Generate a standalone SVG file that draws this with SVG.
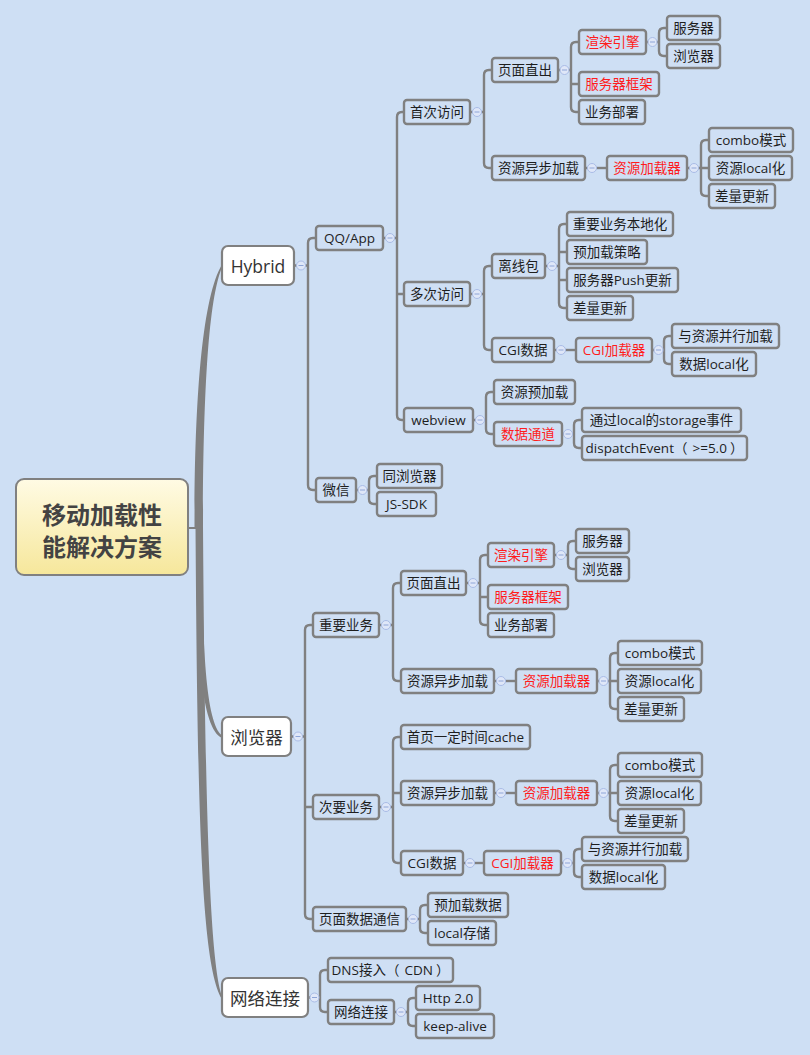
<svg xmlns="http://www.w3.org/2000/svg" width="810" height="1055" viewBox="0 0 810 1055">
<defs>
<linearGradient id="rootg" x1="0" y1="0" x2="0" y2="1">
<stop offset="0" stop-color="#fffbe4"/>
<stop offset="1" stop-color="#f6e79b"/>
</linearGradient>
<g id="btn"><circle cx="0" cy="0" r="4.5" fill="#dfe7f8" stroke="#a9bce6" stroke-width="1"/><line x1="-2.5" y1="0" x2="2.5" y2="0" stroke="#8ea5d8" stroke-width="1"/></g>
</defs>
<style>
.bg{fill:#cedff4}
.n rect{fill:#cfdff4;stroke:#808080;stroke-width:2.4}
.n text{font-family:"Open Sans","Noto Sans CJK SC",sans-serif;font-size:13.5px;fill:#1e1e1e;text-anchor:middle;dominant-baseline:central}
.n.red text{fill:#ff1c1c}
.l1 rect{fill:#ffffff;stroke:#808080;stroke-width:2.2}
.l1 text{font-family:"Open Sans","Noto Sans CJK SC",sans-serif;font-size:17.5px;fill:#333;text-anchor:middle;dominant-baseline:central}
.root rect{fill:url(#rootg);stroke:#808080;stroke-width:2}
.root text{font-family:"Noto Sans CJK SC",sans-serif;font-size:24px;font-weight:bold;fill:#434343;text-anchor:middle;dominant-baseline:central}
.c path{fill:none;stroke:#808080;stroke-width:2.4}
.trunk path{fill:#808080;stroke:none}
</style>
<rect class="bg" x="0" y="0" width="810" height="1055"/>

<g id="connectors">
<g class="trunk">
<path d="M188,527 H199 V529 H188 Z"/>
<path d="M194.5,527 C194.5,400 202,298 222,264.5 L222,267.5 C208,300 203,400 203,527 Z"/>
<path d="M196,527 C196,650 201,728 222,738 L222,735.5 C206,722 202,650 202,527 Z"/>
<path d="M195.5,527 C197.5,800 200.5,965 222,999 L222,996 C209.5,960 205,800 203,527 Z"/>
</g>
<g class="c">
<path d="M294,265.5 H308 M316,238 H313 Q308,238 308,243 V485 Q308,490 313,490 H316"/>
<path d="M383,238 H397 M404,112 H402 Q397,112 397,117 V415 Q397,420 402,420 H404 M397,294 H404"/>
<path d="M470,112 H484 M492,70 H489 Q484,70 484,75 V163 Q484,168 489,168 H492"/>
<path d="M558,70 H571 M579,42 H576 Q571,42 571,47 V107 Q571,112 576,112 H579 M571,84 H579"/>
<path d="M646,42 H659 M667,28 H664 Q659,28 659,33 V51 Q659,56 664,56 H667"/>
<path d="M585,168 H607"/>
<path d="M687,168 H709 M709,140 H706 Q701,140 701,145 V191 Q701,196 706,196 H709"/>
<path d="M470,294 H484 M492,266 H489 Q484,266 484,271 V345 Q484,350 489,350 H492"/>
<path d="M545,266 H559 M567,224 H564 Q559,224 559,229 V303 Q559,308 564,308 H567 M559,252 H567 M559,280 H567"/>
<path d="M554,350 H576"/>
<path d="M652,350 H664 M672,336 H669 Q664,336 664,341 V359 Q664,364 669,364 H672"/>
<path d="M473,420 H486 M494,392 H491 Q486,392 486,397 V429 Q486,434 491,434 H494"/>
<path d="M562,434 H574 M582,420 H579 Q574,420 574,425 V443 Q574,448 579,448 H582"/>
<path d="M356,490 H369 M377,476 H374 Q369,476 369,481 V499 Q369,504 374,504 H377"/>
<path d="M291,736.5 H305 M313,625 H310 Q305,625 305,630 V914 Q305,919 310,919 H313 M305,807 H313"/>
<path d="M379,625 H393 M401,583 H398 Q393,583 393,588 V676 Q393,681 398,681 H401"/>
<path d="M466,583 H480 M488,555 H485 Q480,555 480,560 V620 Q480,625 485,625 H488 M480,597 H488"/>
<path d="M554,555 H568 M576,541 H573 Q568,541 568,546 V564 Q568,569 573,569 H576"/>
<path d="M494,681 H516"/>
<path d="M597,681 H618 M618,653 H615 Q610,653 610,658 V704 Q610,709 615,709 H618"/>
<path d="M379,807 H393 M401,737 H398 Q393,737 393,742 V858 Q393,863 398,863 H401 M393,793 H401"/>
<path d="M494,793 H516"/>
<path d="M597,793 H618 M618,765 H615 Q610,765 610,770 V816 Q610,821 615,821 H618"/>
<path d="M463,863 H484"/>
<path d="M561,863 H574 M582,849 H579 Q574,849 574,854 V872 Q574,877 579,877 H582"/>
<path d="M406,919 H420 M428,905 H425 Q420,905 420,910 V928 Q420,933 425,933 H428"/>
<path d="M308,997.5 H320 M328,970 H325 Q320,970 320,975 V1007 Q320,1012 325,1012 H328"/>
<path d="M394,1012 H408 M416,998 H413 Q408,998 408,1003 V1021 Q408,1026 413,1026 H416"/>
</g>
<g class="buttons">
<use href="#btn" x="301" y="265.5"/>
<use href="#btn" x="390" y="238"/>
<use href="#btn" x="477" y="112"/>
<use href="#btn" x="564.5" y="70"/>
<use href="#btn" x="652.5" y="42"/>
<use href="#btn" x="592" y="168"/>
<use href="#btn" x="694" y="168"/>
<use href="#btn" x="477" y="294"/>
<use href="#btn" x="552" y="266"/>
<use href="#btn" x="561" y="350"/>
<use href="#btn" x="658.5" y="350"/>
<use href="#btn" x="480" y="420"/>
<use href="#btn" x="568" y="434"/>
<use href="#btn" x="362.5" y="490"/>
<use href="#btn" x="298" y="736.5"/>
<use href="#btn" x="386" y="625"/>
<use href="#btn" x="473" y="583"/>
<use href="#btn" x="561" y="555"/>
<use href="#btn" x="501" y="681"/>
<use href="#btn" x="603.5" y="681"/>
<use href="#btn" x="386" y="807"/>
<use href="#btn" x="501" y="793"/>
<use href="#btn" x="603.5" y="793"/>
<use href="#btn" x="470" y="863"/>
<use href="#btn" x="567.5" y="863"/>
<use href="#btn" x="413" y="919"/>
<use href="#btn" x="314.5" y="997.5"/>
<use href="#btn" x="401" y="1012"/>
</g>
</g>

<g id="root" class="root">
<rect x="16" y="479" width="172" height="96" rx="8"/>
<text x="102" y="513">移动加载性</text>
<text x="102" y="545">能解决方案</text>
</g>

<g id="n-hybrid" class="l1"><rect x="222" y="246" width="72" height="39" rx="6"/><text x="258" y="265.5">Hybrid</text></g>
<g id="n-browser" class="l1"><rect x="222" y="717" width="69" height="39" rx="6"/><text x="256.5" y="736.5">浏览器</text></g>
<g id="n-network" class="l1"><rect x="222" y="978" width="86" height="39" rx="6"/><text x="265" y="997.5">网络连接</text></g>

<g id="n-qqapp" class="n"><rect x="316" y="226" width="67" height="24" rx="3"/><text x="349.5" y="238">QQ/App</text></g>
<g id="n-first" class="n"><rect x="404" y="100" width="66" height="24" rx="3"/><text x="437" y="112">首次访问</text></g>
<g id="n-h-direct" class="n"><rect x="492" y="58" width="66" height="24" rx="3"/><text x="525" y="70">页面直出</text></g>
<g id="n-h-render" class="n red"><rect x="579" y="30" width="67" height="24" rx="3"/><text x="612.5" y="42">渲染引擎</text></g>
<g id="n-h-server" class="n"><rect x="667" y="16" width="53" height="24" rx="3"/><text x="693.5" y="28">服务器</text></g>
<g id="n-h-browser" class="n"><rect x="667" y="44" width="53" height="24" rx="3"/><text x="693.5" y="56">浏览器</text></g>
<g id="n-h-framework" class="n red"><rect x="579" y="72" width="80" height="24" rx="3"/><text x="619" y="84">服务器框架</text></g>
<g id="n-h-deploy" class="n"><rect x="579" y="100" width="66" height="24" rx="3"/><text x="612" y="112">业务部署</text></g>
<g id="n-h-async" class="n"><rect x="492" y="156" width="93" height="24" rx="3"/><text x="538.5" y="168">资源异步加载</text></g>
<g id="n-h-loader" class="n red"><rect x="607" y="156" width="80" height="24" rx="3"/><text x="647" y="168">资源加载器</text></g>
<g id="n-h-combo" class="n"><rect x="709" y="128" width="84" height="24" rx="3"/><text x="751" y="140">combo模式</text></g>
<g id="n-h-local" class="n"><rect x="709" y="156" width="83" height="24" rx="3"/><text x="750.5" y="168">资源local化</text></g>
<g id="n-h-diff" class="n"><rect x="709" y="184" width="66" height="24" rx="3"/><text x="742" y="196">差量更新</text></g>

<g id="n-multi" class="n"><rect x="404" y="282" width="66" height="24" rx="3"/><text x="437" y="294">多次访问</text></g>
<g id="n-offline" class="n"><rect x="492" y="254" width="53" height="24" rx="3"/><text x="518.5" y="266">离线包</text></g>
<g id="n-o-1" class="n"><rect x="567" y="212" width="106" height="24" rx="3"/><text x="620" y="224">重要业务本地化</text></g>
<g id="n-o-2" class="n"><rect x="567" y="240" width="80" height="24" rx="3"/><text x="607" y="252">预加载策略</text></g>
<g id="n-o-3" class="n"><rect x="567" y="268" width="111" height="24" rx="3"/><text x="622.5" y="280">服务器Push更新</text></g>
<g id="n-o-4" class="n"><rect x="567" y="296" width="66" height="24" rx="3"/><text x="600" y="308">差量更新</text></g>
<g id="n-h-cgi" class="n"><rect x="492" y="338" width="62" height="24" rx="3"/><text x="523" y="350">CGI数据</text></g>
<g id="n-h-cgiloader" class="n red"><rect x="576" y="338" width="76" height="24" rx="3"/><text x="614" y="350">CGI加载器</text></g>
<g id="n-h-par" class="n"><rect x="672" y="324" width="107" height="24" rx="3"/><text x="725.5" y="336">与资源并行加载</text></g>
<g id="n-h-datalocal" class="n"><rect x="672" y="352" width="84" height="24" rx="3"/><text x="714" y="364">数据local化</text></g>

<g id="n-webview" class="n"><rect x="404" y="408" width="69" height="24" rx="3"/><text x="438.5" y="420">webview</text></g>
<g id="n-preload" class="n"><rect x="494" y="380" width="81" height="24" rx="3"/><text x="534.5" y="392">资源预加载</text></g>
<g id="n-channel" class="n red"><rect x="494" y="422" width="68" height="24" rx="3"/><text x="528" y="434">数据通道</text></g>
<g id="n-storage" class="n"><rect x="582" y="408" width="159" height="24" rx="3"/><text x="661.5" y="420">通过local的storage事件</text></g>
<g id="n-dispatch" class="n"><rect x="582" y="436" width="165" height="24" rx="3"/><text x="664.5" y="448">dispatchEvent（<tspan dx="5">&gt;=5.0</tspan><tspan dx="3">）</tspan></text></g>

<g id="n-wechat" class="n"><rect x="316" y="478" width="40" height="24" rx="3"/><text x="336" y="490">微信</text></g>
<g id="n-samebrowser" class="n"><rect x="377" y="464" width="65" height="24" rx="3"/><text x="409.5" y="476">同浏览器</text></g>
<g id="n-jssdk" class="n"><rect x="377" y="492" width="59" height="24" rx="3"/><text x="406.5" y="504">JS-SDK</text></g>

<g id="n-important" class="n"><rect x="313" y="613" width="66" height="24" rx="3"/><text x="346" y="625">重要业务</text></g>
<g id="n-b-direct" class="n"><rect x="401" y="571" width="65" height="24" rx="3"/><text x="433.5" y="583">页面直出</text></g>
<g id="n-b-render" class="n red"><rect x="488" y="543" width="66" height="24" rx="3"/><text x="521" y="555">渲染引擎</text></g>
<g id="n-b-server" class="n"><rect x="576" y="529" width="53" height="24" rx="3"/><text x="602.5" y="541">服务器</text></g>
<g id="n-b-browser" class="n"><rect x="576" y="557" width="53" height="24" rx="3"/><text x="602.5" y="569">浏览器</text></g>
<g id="n-b-framework" class="n red"><rect x="488" y="585" width="80" height="24" rx="3"/><text x="528" y="597">服务器框架</text></g>
<g id="n-b-deploy" class="n"><rect x="488" y="613" width="66" height="24" rx="3"/><text x="521" y="625">业务部署</text></g>
<g id="n-b-async" class="n"><rect x="401" y="669" width="93" height="24" rx="3"/><text x="447.5" y="681">资源异步加载</text></g>
<g id="n-b-loader" class="n red"><rect x="516" y="669" width="81" height="24" rx="3"/><text x="556.5" y="681">资源加载器</text></g>
<g id="n-b-combo" class="n"><rect x="618" y="641" width="84" height="24" rx="3"/><text x="660" y="653">combo模式</text></g>
<g id="n-b-local" class="n"><rect x="618" y="669" width="83" height="24" rx="3"/><text x="659.5" y="681">资源local化</text></g>
<g id="n-b-diff" class="n"><rect x="618" y="697" width="66" height="24" rx="3"/><text x="651" y="709">差量更新</text></g>

<g id="n-secondary" class="n"><rect x="313" y="795" width="66" height="24" rx="3"/><text x="346" y="807">次要业务</text></g>
<g id="n-cache" class="n"><rect x="401" y="725" width="129" height="24" rx="3"/><text x="465.5" y="737">首页一定时间cache</text></g>
<g id="n-s-async" class="n"><rect x="401" y="781" width="93" height="24" rx="3"/><text x="447.5" y="793">资源异步加载</text></g>
<g id="n-s-loader" class="n red"><rect x="516" y="781" width="81" height="24" rx="3"/><text x="556.5" y="793">资源加载器</text></g>
<g id="n-s-combo" class="n"><rect x="618" y="753" width="84" height="24" rx="3"/><text x="660" y="765">combo模式</text></g>
<g id="n-s-local" class="n"><rect x="618" y="781" width="83" height="24" rx="3"/><text x="659.5" y="793">资源local化</text></g>
<g id="n-s-diff" class="n"><rect x="618" y="809" width="66" height="24" rx="3"/><text x="651" y="821">差量更新</text></g>
<g id="n-s-cgi" class="n"><rect x="401" y="851" width="62" height="24" rx="3"/><text x="432" y="863">CGI数据</text></g>
<g id="n-s-cgiloader" class="n red"><rect x="484" y="851" width="77" height="24" rx="3"/><text x="522.5" y="863">CGI加载器</text></g>
<g id="n-s-par" class="n"><rect x="582" y="837" width="106" height="24" rx="3"/><text x="635" y="849">与资源并行加载</text></g>
<g id="n-s-datalocal" class="n"><rect x="582" y="865" width="83" height="24" rx="3"/><text x="623.5" y="877">数据local化</text></g>

<g id="n-pagecomm" class="n"><rect x="313" y="907" width="93" height="24" rx="3"/><text x="359.5" y="919">页面数据通信</text></g>
<g id="n-preloaddata" class="n"><rect x="428" y="893" width="80" height="24" rx="3"/><text x="468" y="905">预加载数据</text></g>
<g id="n-localstore" class="n"><rect x="428" y="921" width="68" height="24" rx="3"/><text x="462" y="933">local存储</text></g>

<g id="n-dns" class="n"><rect x="328" y="958" width="125" height="24" rx="3"/><text x="390.5" y="970">DNS接入（<tspan dx="5">CDN</tspan><tspan dx="3">）</tspan></text></g>
<g id="n-net2" class="n"><rect x="328" y="1000" width="66" height="24" rx="3"/><text x="361" y="1012">网络连接</text></g>
<g id="n-http2" class="n"><rect x="416" y="986" width="64" height="24" rx="3"/><text x="448" y="998">Http 2.0</text></g>
<g id="n-keepalive" class="n"><rect x="416" y="1014" width="78" height="24" rx="3"/><text x="455" y="1026">keep-alive</text></g>
</svg>
